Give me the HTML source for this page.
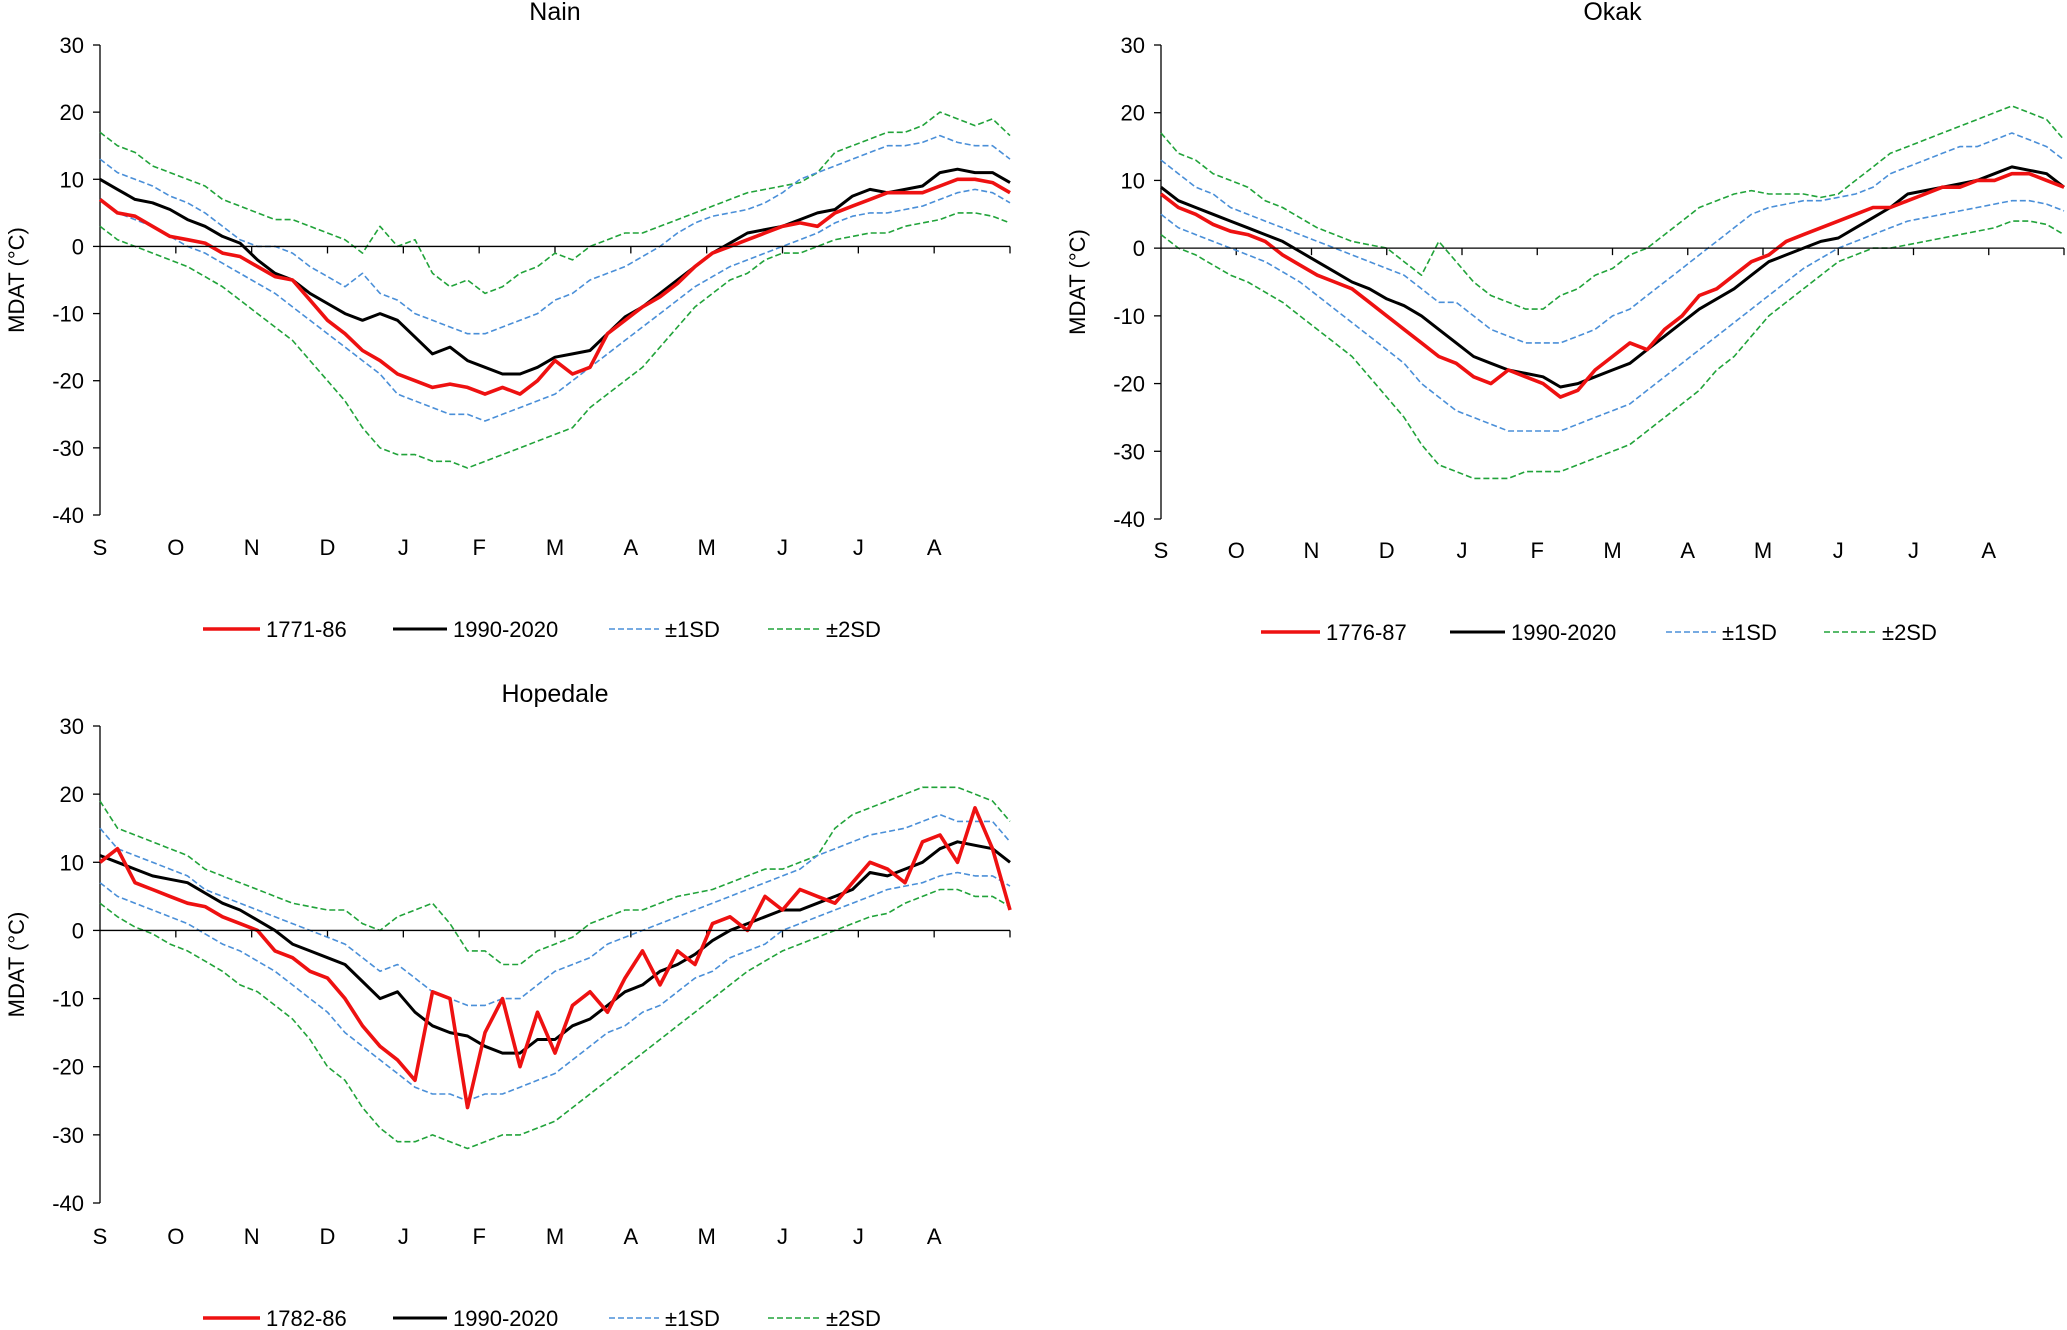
<!DOCTYPE html>
<html><head><meta charset="utf-8"><style>
html,body{margin:0;padding:0;background:#fff;}
svg{display:block;font-family:"Liberation Sans",Arial,sans-serif;}
</style></head><body>
<svg id="root" width="2067" height="1330" viewBox="0 0 2067 1330" xmlns="http://www.w3.org/2000/svg"></svg>
<script>
// ---- data: weekly values (day = 7*i), 53 points per series ----
const months = ["S","O","N","D","J","F","M","A","M","J","J","A"];
const yTicks = [30,20,10,0,-10,-20,-30,-40];

const nainHist = [7,5,4.5,3,1.5, 1,0.5,-1,-1.5, -3,-4.5,-5,-8,-11, -13,-15.5,-17,-19, -20,-21,-20.5,-21, -22,-21,-22,-20, -17,-19,-18,-13,-11, -9,-7.5,-5.5,-3, -1,0,1,2, 3,3.5,3,5,6, 7,8,8,8, 9,10,10,9.5,8];
const nainNorm = [10,8.5,7,6.5,5.5, 4,3,1.5,0.5, -2,-4,-5,-7,-8.5, -10,-11,-10,-11, -13.5,-16,-15,-17, -18,-19,-19,-18, -16.5,-16,-15.5,-13,-10.5, -9,-7,-5,-3, -1,0.5,2,2.5, 3,4,5,5.5,7.5, 8.5,8,8.5,9, 11,11.5,11,11,9.5];
const nainSd1Hi = [13,11,10,9,7.5, 6.5,5,3,1, 0,0,-1,-3,-4.5, -6,-4,-7,-8, -10,-11,-12,-13, -13,-12,-11,-10, -8,-7,-5,-4,-3, -1.5,0,2,3.5, 4.5,5,5.5,6.5, 8,10,11,12,13, 14,15,15,15.5, 16.5,15.5,15,15,13];
const nainSd1Lo = [7,5,4,3,1.5, 0,-1,-2.5,-4, -5.5,-7,-9,-11,-13, -15,-17,-19,-22, -23,-24,-25,-25, -26,-25,-24,-23, -22,-20,-18,-16,-14, -12,-10,-8,-6, -4.5,-3,-2,-1, 0,1,2,3.5,4.5, 5,5,5.5,6, 7,8,8.5,8,6.5];
const nainSd2Hi = [17,15,14,12,11, 10,9,7,6, 5,4,4,3,2, 1,-1,3,0, 1,-4,-6,-5, -7,-6,-4,-3, -1,-2,0,1,2, 2,3,4,5, 6,7,8,8.5, 9,9.5,11,14,15, 16,17,17,18, 20,19,18,19,16.5];
const nainSd2Lo = [3,1,0,-1,-2, -3,-4.5,-6,-8, -10,-12,-14,-17,-20, -23,-27,-30,-31, -31,-32,-32,-33, -32,-31,-30,-29, -28,-27,-24,-22,-20, -18,-15,-12,-9, -7,-5,-4,-2, -1,-1,0,1,1.5, 2,2,3,3.5, 4,5,5,4.5,3.5];

const okakHist = [8,6,5,3.5,2.5, 2,1,-1,-2.5, -4,-5,-6,-8,-10, -12,-14,-16,-17, -19,-20,-18,-19, -20,-22,-21,-18, -16,-14,-15,-12,-10, -7,-6,-4,-2, -1,1,2,3, 4,5,6,6,7, 8,9,9,10, 10,11,11,10,9];
const okakNorm = [9,7,6,5,4, 3,2,1,-0.5, -2,-3.5,-5,-6,-7.5, -8.5,-10,-12,-14, -16,-17,-18,-18.5, -19,-20.5,-20,-19, -18,-17,-15,-13,-11, -9,-7.5,-6,-4, -2,-1,0,1, 1.5,3,4.5,6,8, 8.5,9,9.5,10, 11,12,11.5,11,9];
const okakSd1Hi = [13,11,9,8,6, 5,4,3,2, 1,0,-1,-2,-3, -4,-6,-8,-8, -10,-12,-13,-14, -14,-14,-13,-12, -10,-9,-7,-5,-3, -1,1,3,5, 6,6.5,7,7, 7.5,8,9,11,12, 13,14,15,15, 16,17,16,15,13];
const okakSd1Lo = [5,3,2,1,0, -1,-2,-3.5,-5, -7,-9,-11,-13,-15, -17,-20,-22,-24, -25,-26,-27,-27, -27,-27,-26,-25, -24,-23,-21,-19,-17, -15,-13,-11,-9, -7,-5,-3,-1.5, 0,1,2,3,4, 4.5,5,5.5,6, 6.5,7,7,6.5,5.5];
const okakSd2Hi = [17,14,13,11,10, 9,7,6,4.5, 3,2,1,0.5,0, -2,-4,1,-2, -5,-7,-8,-9, -9,-7,-6,-4, -3,-1,0,2,4, 6,7,8,8.5, 8,8,8,7.5, 8,10,12,14,15, 16,17,18,19, 20,21,20,19,16];
const okakSd2Lo = [2,0,-1,-2.5,-4, -5,-6.5,-8,-10, -12,-14,-16,-19,-22, -25,-29,-32,-33, -34,-34,-34,-33, -33,-33,-32,-31, -30,-29,-27,-25,-23, -21,-18,-16,-13, -10,-8,-6,-4, -2,-1,0,0,0.5, 1,1.5,2,2.5, 3,4,4,3.5,2];

const hopeHist = [10,12,7,6,5, 4,3.5,2,1, 0,-3,-4,-6,-7, -10,-14,-17,-19, -22,-9,-10,-26, -15,-10,-20,-12, -18,-11,-9,-12,-7, -3,-8,-3,-5, 1,2,0,5, 3,6,5,4,7, 10,9,7,13, 14,10,18,12,3];
const hopeNorm = [11,10,9,8,7.5, 7,5.5,4,3, 1.5,0,-2,-3,-4, -5,-7.5,-10,-9, -12,-14,-15,-15.5, -17,-18,-18,-16, -16,-14,-13,-11,-9, -8,-6,-5,-3.5, -1.5,0,1,2, 3,3,4,5,6, 8.5,8,9,10, 12,13,12.5,12,10];
const hopeSd1Hi = [15,12,11,10,9, 8,6,5,4, 3,2,1,0,-1, -2,-4,-6,-5, -7,-9,-10,-11, -11,-10,-10,-8, -6,-5,-4,-2,-1, 0,1,2,3, 4,5,6,7, 8,9,11,12,13, 14,14.5,15,16, 17,16,16,16,13];
const hopeSd1Lo = [7,5,4,3,2, 1,-0.5,-2,-3, -4.5,-6,-8,-10,-12, -15,-17,-19,-21, -23,-24,-24,-25, -24,-24,-23,-22, -21,-19,-17,-15,-14, -12,-11,-9,-7, -6,-4,-3,-2, 0,1,2,3,4, 5,6,6.5,7, 8,8.5,8,8,6.5];
const hopeSd2Hi = [19,15,14,13,12, 11,9,8,7, 6,5,4,3.5,3, 3,1,0,2, 3,4,1,-3, -3,-5,-5,-3, -2,-1,1,2,3, 3,4,5,5.5, 6,7,8,9, 9,10,11,15,17, 18,19,20,21, 21,21,20,19,16];
const hopeSd2Lo = [4,2,0.5,-0.5,-2, -3,-4.5,-6,-8, -9,-11,-13,-16,-20, -22,-26,-29,-31, -31,-30,-31,-32, -31,-30,-30,-29, -28,-26,-24,-22,-20, -18,-16,-14,-12, -10,-8,-6,-4.5, -3,-2,-1,0,1, 2,2.5,4,5, 6,6,5,5,3.5];

const NS="http://www.w3.org/2000/svg";
const root=document.getElementById('root');
function el(tag,attrs,parent){const e=document.createElementNS(NS,tag);for(const k in attrs)e.setAttribute(k,attrs[k]);(parent||root).appendChild(e);return e;}

function drawChart(cfg){
  const g=el('g',{});
  
  
  const x0=cfg.x0,x1=cfg.x1,yTop=cfg.yTop,yBot=cfg.yBot;
  const yS=v=>yTop+(30-v)/70*(yBot-yTop);
  const xS=d=>x0+d/364*(x1-x0);
  const t=el('text',{x:(x0+x1)/2,y:cfg.titleY,'font-size':25,'text-anchor':'middle'},g);t.textContent=cfg.title;
  
  
  const yt=el('text',{x:0,y:0,'font-size':22,'text-anchor':'middle',transform:`translate(${x0-76},${(yTop+yBot)/2}) rotate(-90)`},g);yt.textContent="MDAT (°C)";
  
  
  el('line',{x1:x0,y1:yTop,x2:x0,y2:yBot,stroke:'#000','stroke-width':1.3},g);
  yTicks.forEach(v=>{
    el('line',{x1:x0-7,y1:yS(v),x2:x0,y2:yS(v),stroke:'#000','stroke-width':1.3},g);
    const tl=el('text',{x:x0-16,y:yS(v)+8,'font-size':22,'text-anchor':'end'},g);tl.textContent=v;
    
    
  });
  months.forEach((m,i)=>{
    const xm=x0+i*(x1-x0)/12;
    if(i>0) el('line',{x1:xm,y1:yS(0),x2:xm,y2:yS(0)+7,stroke:'#000','stroke-width':1.3},g);
    const ml=el('text',{x:xm,y:cfg.labY,'font-size':22,'text-anchor':'middle'},g);ml.textContent=m;
    
    
  });
  el('line',{x1:x1,y1:yS(0),x2:x1,y2:yS(0)+7,stroke:'#000','stroke-width':1.3},g);
  const series=[
    [cfg.sd2Lo,'#21a33a',1.6,'6,3','sd2-lower'],[cfg.sd2Hi,'#21a33a',1.6,'6,3','sd2-upper'],
    [cfg.sd1Lo,'#4a8fd8',1.6,'6,3','sd1-lower'],[cfg.sd1Hi,'#4a8fd8',1.6,'6,3','sd1-upper'],
    [cfg.norm,'#000',3,null,'normal-line'],[cfg.hist,'#ee1111',3.6,null,'historical-line']];
  series.forEach(s=>{
    const pts=s[0].map((v,i)=>xS(Math.min(i*7,364)).toFixed(1)+','+yS(v).toFixed(1)).join(' ');
    const p=el('polyline',{points:pts,fill:'none',stroke:s[1],'stroke-width':s[2],'stroke-linejoin':'round'},g);
    if(s[3])p.setAttribute('stroke-dasharray',s[3]);
    
    
  });
  el('line',{x1:x0,y1:yS(0),x2:x1,y2:yS(0),stroke:'#000','stroke-width':1.3},g);
  const L=cfg.leg, ly=cfg.legY;
  const items=[['#ee1111',3.6,null,cfg.histLabel],['#000',3,null,'1990-2020'],['#4a8fd8',1.6,'6,3','±1SD'],['#21a33a',1.6,'6,3','±2SD']];
  items.forEach((it,i)=>{
    const lg=el('g',{},g);
    
    
    const ln=el('line',{x1:L[i][0],y1:ly-8,x2:L[i][1],y2:ly-8,stroke:it[0],'stroke-width':it[1]},lg);
    if(it[2])ln.setAttribute('stroke-dasharray',it[2]);
    const tx=el('text',{x:L[i][1]+6,y:ly,'font-size':22},lg);tx.textContent=it[3];
  });
}
drawChart({id:'nain',title:'Nain',x0:100,x1:1010,yTop:45,yBot:515,titleY:20,labY:555,legY:637,
  hist:nainHist,norm:nainNorm,sd1Hi:nainSd1Hi,sd1Lo:nainSd1Lo,sd2Hi:nainSd2Hi,sd2Lo:nainSd2Lo,histLabel:'1771-86',
  leg:[[203,260],[393,447],[609,659],[768,820]]});
drawChart({id:'okak',title:'Okak',x0:1161,x1:2064,yTop:45,yBot:519,titleY:20,labY:558,legY:640,
  hist:okakHist,norm:okakNorm,sd1Hi:okakSd1Hi,sd1Lo:okakSd1Lo,sd2Hi:okakSd2Hi,sd2Lo:okakSd2Lo,histLabel:'1776-87',
  leg:[[1261,1320],[1450,1505],[1666,1716],[1824,1876]]});
drawChart({id:'hopedale',title:'Hopedale',x0:100,x1:1010,yTop:726,yBot:1203,titleY:702,labY:1244,legY:1326,
  hist:hopeHist,norm:hopeNorm,sd1Hi:hopeSd1Hi,sd1Lo:hopeSd1Lo,sd2Hi:hopeSd2Hi,sd2Lo:hopeSd2Lo,histLabel:'1782-86',
  leg:[[203,260],[393,447],[609,659],[768,820]]});
</script>
</body></html>
